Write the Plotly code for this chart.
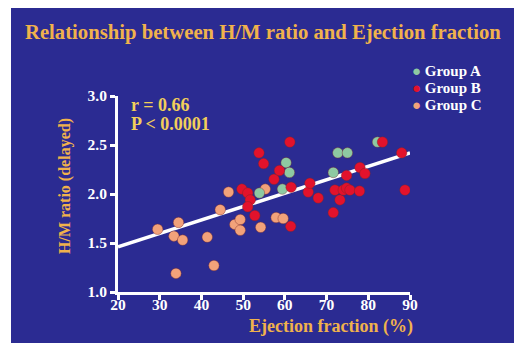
import plotly.graph_objects as go

# ---- data ----
a_ef = [53.9, 59.4, 60.3, 61.1, 71.6, 72.7, 75.0, 82.2]
a_hm = [2.01, 2.05, 2.32, 2.22, 2.22, 2.42, 2.42, 2.53]

b_ef = [49.7, 51.1, 51.7, 51.1, 52.8, 53.8, 54.9, 57.4, 58.7, 61.2, 61.5, 61.4,
        65.6, 66.0, 68.0, 72.0, 73.2, 71.6, 74.0, 74.8, 74.8, 75.6, 77.9, 78.0,
        79.2, 83.4, 88.0, 88.8]
b_hm = [2.05, 2.01, 1.94, 1.87, 1.78, 2.42, 2.31, 2.15, 2.24, 2.53, 2.07, 1.67,
        2.02, 2.11, 1.96, 2.04, 1.94, 1.81, 2.04, 2.19, 2.06, 2.04, 2.03, 2.27,
        2.21, 2.53, 2.42, 2.04]

c_ef = [29.5, 34.5, 33.4, 35.5, 33.9, 41.4, 43.0, 44.5, 46.5, 48.0, 49.3, 49.3,
        54.2, 55.3, 57.9, 59.6]
c_hm = [1.64, 1.71, 1.57, 1.53, 1.19, 1.56, 1.27, 1.84, 2.02, 1.69, 1.74, 1.63,
        1.66, 2.05, 1.76, 1.75]

fit_ef = [20, 90]
fit_hm = [1.46, 2.42]

x_ticks = [20, 30, 40, 50, 60, 70, 80, 90]
y_ticks = [1.0, 1.5, 2.0, 2.5, 3.0]
groups = ["Group A", "Group B", "Group C"]

# ---- style ----
W, H = 514, 345
L, R, T, B = 118, 410, 96, 292
BLUE = "#2b2b92"
FONT = "Liberation Serif"
GREEN = "#8ec9a2"
RED = "#e2122c"
PEACH = "#f2a27a"
GOLD = "#f0b24c"
YEL = "#f2cf5a"

def px(x):
    return (x - L) / (R - L)

def py(y):
    return (B - y) / (B - T)

fig = go.Figure()
fig.add_trace(go.Scatter(x=fit_ef, y=fit_hm, mode="lines",
                         line=dict(color="white", width=3.5), showlegend=False,
                         hoverinfo="skip"))
for ef, hm, col, name in [(c_ef, c_hm, PEACH, groups[2]),
                          (a_ef, a_hm, GREEN, groups[0]),
                          (b_ef, b_hm, RED, groups[1])]:
    fig.add_trace(go.Scatter(x=ef, y=hm, mode="markers", name=name,
                             marker=dict(size=10.5, color=col,
                                         line=dict(width=0.8, color="rgba(120,40,40,0.5)")),
                             showlegend=False))

fig.add_shape(type="rect", xref="paper", yref="paper",
              x0=px(11), x1=px(520), y0=py(343), y1=py(8),
              fillcolor=BLUE, line=dict(width=0), layer="below")

ann = []
ann.append(dict(text="<b>Relationship between H/M ratio and Ejection fraction</b>",
                x=px(263), y=py(32), xref="paper", yref="paper", showarrow=False,
                font=dict(family=FONT, size=20.7, color=GOLD), xanchor="center", yanchor="middle"))
ann.append(dict(text="<b>r = 0.66</b>", x=px(129), y=py(105), xref="paper", yref="paper",
                showarrow=False, font=dict(family=FONT, size=18, color=YEL),
                xanchor="left", yanchor="middle"))
ann.append(dict(text="<b>P < 0.0001</b>", x=px(129), y=py(124), xref="paper", yref="paper",
                showarrow=False, font=dict(family=FONT, size=18, color=YEL),
                xanchor="left", yanchor="middle"))
ann.append(dict(text="<b>H/M ratio (delayed)</b>", x=px(65), y=py(186), xref="paper",
                yref="paper", showarrow=False, textangle=-90,
                font=dict(family=FONT, size=16, color=GOLD),
                xanchor="center", yanchor="middle"))
ann.append(dict(text="<b>Ejection fraction (%)</b>", x=px(415), y=py(326), xref="paper",
                yref="paper", showarrow=False,
                font=dict(family=FONT, size=18, color=GOLD),
                xanchor="right", yanchor="middle"))
for i, (name, col) in enumerate(zip(groups, [GREEN, RED, PEACH])):
    ann.append(dict(text=f"<span style='color:{col}'>●</span> <b>{name}</b>",
                    x=px(411), y=py(71 + 17 * i), xref="paper", yref="paper",
                    showarrow=False, font=dict(family=FONT, size=15, color="white"),
                    xanchor="left", yanchor="middle", borderpad=0))

axis_common = dict(showgrid=False, zeroline=False, showline=True, linecolor="white",
                   linewidth=3, ticks="outside", tickcolor="white", tickwidth=2.5,
                   ticklen=5, tickfont=dict(family=FONT, size=15.5, color="white"))
fig.update_layout(
    width=W, height=H, margin=dict(l=L, r=W - R, t=T, b=H - B),
    paper_bgcolor="white", plot_bgcolor="rgba(0,0,0,0)",
    xaxis=dict(range=[20, 90], tickvals=x_ticks, ticktext=[f"<b>{v}</b>" for v in x_ticks],
               ticklabelstandoff=-9, **axis_common),
    yaxis=dict(range=[1, 3], tickvals=y_ticks, ticktext=[f"<b>{v:.1f}</b>" for v in y_ticks],
               **axis_common),
    annotations=ann, showlegend=False,
)
fig.write_html("out.html")
